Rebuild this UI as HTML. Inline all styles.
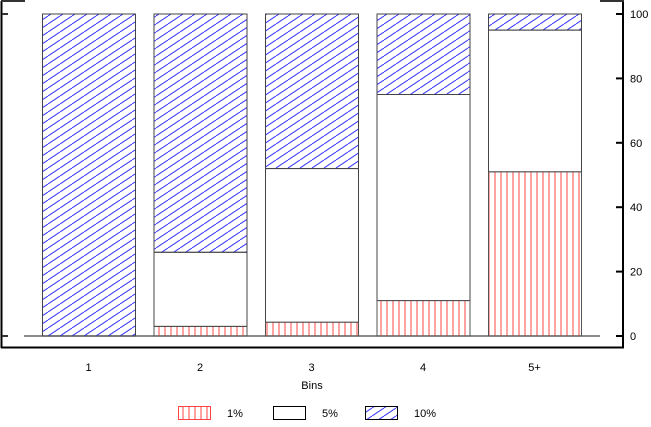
<!DOCTYPE html>
<html><head><meta charset="utf-8"><style>
body{margin:0;background:#fff;width:651px;height:422px;overflow:hidden}
text{font-family:"Liberation Sans",sans-serif;font-size:11px;fill:#000}
</style></head><body>
<svg id="chart" width="651" height="422">
<defs>
<pattern id="pRed" width="6" height="10" patternUnits="userSpaceOnUse"><line x1="3" y1="0" x2="3" y2="10" stroke="#f44" stroke-width="1"/></pattern>
<pattern id="pBlue" width="12" height="8" patternUnits="userSpaceOnUse"><line x1="0" y1="8" x2="12" y2="0" stroke="#33f" stroke-width="1"/><line x1="-12" y1="8" x2="0" y2="0" stroke="#33f"/><line x1="12" y1="8" x2="24" y2="0" stroke="#33f"/></pattern>
</defs>
<g id="frame">
<line x1="1.5" y1="1" x2="1.5" y2="348" stroke="#000" stroke-width="2"/>
<line x1="1" y1="347.5" x2="624" y2="347.5" stroke="#000" stroke-width="2"/>
<line x1="623" y1="1" x2="623" y2="348" stroke="#000" stroke-width="2"/>
<line x1="1" y1="1" x2="25" y2="1" stroke="#333" stroke-width="2"/>
<line x1="600" y1="1" x2="624" y2="1" stroke="#333" stroke-width="2"/>
<line x1="2" y1="14" x2="8" y2="14" stroke="#333" stroke-width="2"/>
<line x1="2" y1="336" x2="8" y2="336" stroke="#333" stroke-width="2"/>
<line x1="24" y1="336" x2="600" y2="336" stroke="#666" stroke-width="1.5"/>
</g>
<g id="bars"></g>
<g id="axis"></g>
<text x="312" y="389" text-anchor="middle" font-size="12">Bins</text>
<g id="legend"></g>
</svg>
<script>
const categories=["1","2","3","4","5+"];
const s1=[0,3,4.3,11,51];
const s5=[0,23,47.7,64,44];
const s10=[100,74,48,25,5];
const yTicks=[0,20,40,60,80,100];
const seriesNames=["1%","5%","10%"];
const ns="http://www.w3.org/2000/svg";
const y=v=>336-v*3.22;
const xL=i=>42+i*111.5;
const bw=93;
const fills=["url(#pRed)","#fff","url(#pBlue)"];
const strokes=["#f44","#000","#000"];
const bars=document.getElementById("bars"),axis=document.getElementById("axis"),legend=document.getElementById("legend");
function mk(t,a,p){const e=document.createElementNS(ns,t);for(const k in a)e.setAttribute(k,a[k]);p.appendChild(e);return e;}
categories.forEach((c,i)=>{
 let base=0;
 [s1,s5,s10].forEach((s,k)=>{
  const v=s[i];
  if(v>0){
   const r=mk("rect",{x:xL(i)+0.5,y:y(base+v),width:bw,height:y(base)-y(base+v),fill:fills[k],stroke:k==0?"#555":"#444","stroke-width":1},bars);
   
   
  }
  base+=v;
 });
 const t=mk("text",{x:xL(i)+bw/2,y:371,"text-anchor":"middle"},axis);t.textContent=c;
 
 
});
yTicks.forEach(v=>{
 const l=mk("line",{x1:616,x2:623,y1:y(v),y2:y(v),stroke:"#000","stroke-width":2},axis);
 
 
 const t=mk("text",{x:630,y:y(v)+4},axis);t.textContent=v;
 
 
});
const lx=[178,273,365];
seriesNames.forEach((n,k)=>{
 const r=mk("rect",{x:lx[k]+0.5,y:406.5,width:32,height:13,fill:fills[k],stroke:strokes[k]},legend);
 
 
 const t=mk("text",{x:lx[k]+49,y:417},legend);t.textContent=n;
 
 
});
</script>
</body></html>
